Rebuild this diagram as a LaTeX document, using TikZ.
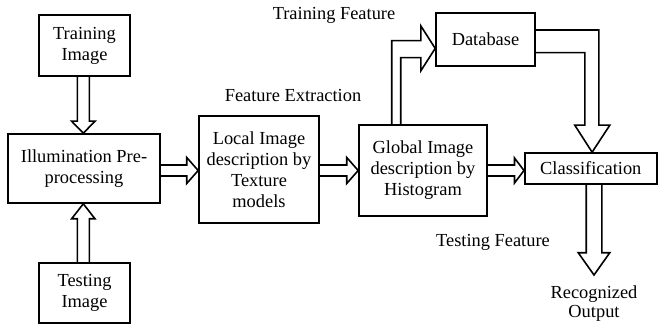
\documentclass[tikz,border=0pt]{standalone}
\usepackage{fontspec}
\setmainfont{Liberation Serif}
\usetikzlibrary{calc}
% block arrows: #1 start, #2 tip, #3 shaft half width, #4 head half width, #5 head length
\newcommand\arrowR[5]{\draw[blk] let \p1=(#1), \p2=(#2) in (\x1,\y1-#3) -- (\x2-#5,\y1-#3) -- (\x2-#5,\y1-#4) -- (\x2,\y1) -- (\x2-#5,\y1+#4) -- (\x2-#5,\y1+#3) -- (\x1,\y1+#3);}
\newcommand\arrowD[5]{\draw[blk] let \p1=(#1), \p2=(#2) in (\x1-#3,\y1) -- (\x1-#3,\y2+#5) -- (\x1-#4,\y2+#5) -- (\x1,\y2) -- (\x1+#4,\y2+#5) -- (\x1+#3,\y2+#5) -- (\x1+#3,\y1);}
\newcommand\arrowU[5]{\draw[blk] let \p1=(#1), \p2=(#2) in (\x1-#3,\y1) -- (\x1-#3,\y2-#5) -- (\x1-#4,\y2-#5) -- (\x1,\y2) -- (\x1+#4,\y2-#5) -- (\x1+#3,\y2-#5) -- (\x1+#3,\y1);}
\begin{document}
\begin{tikzpicture}[x=1pt,y=1pt,
  every node/.style={font=\fontsize{18.4}{21}\selectfont},
  box/.style={draw, line width=1.6pt, align=center, inner sep=0pt},
  blk/.style={draw, line width=1.6pt, line join=miter},
  lbl/.style={align=center, inner sep=0pt}]
\useasboundingbox (0,0) rectangle (658,324);

\node[box, minimum width=91, minimum height=61] (train) at (84.5,278.5) {Training\\Image};
\node[box, minimum width=152, minimum height=69] (illum) at (84,155.5) {Illumination Pre-\\processing};
\node[box, minimum width=91, minimum height=60] (test) at (84.5,31) {Testing\\Image};
\node[box, minimum width=120, minimum height=107] (local) at (259,154.5) {Local Image\\description by\\Texture\\models};
\node[box, minimum width=128, minimum height=91] (global) at (423,153.5) {Global Image\\description by\\Histogram};
\node[box, minimum width=99, minimum height=53] (db) at (485.5,284.5) {Database};
\node[box, minimum width=132, minimum height=31] (class) at (590.8,155.5) {Classification};

\node[lbl] (fe) at (293,228) {Feature Extraction};
\node[lbl] (tf) at (334,309) {Training Feature};
\node[lbl] (tsf) at (493,82) {Testing Feature};
\node[lbl, font=\fontsize{18.4}{19}\selectfont] (out) at (594,20) {Recognized\\Output};

\coordinate (haxis) at (0,153.5);
\coordinate (vaxis) at (83.3,0);
\coordinate (outtip) at (594,49);

\arrowD{train.south -| vaxis}{illum.north -| vaxis}{6}{11.7}{12}
\arrowU{test.north -| vaxis}{illum.south -| vaxis}{6}{11.7}{15}
\arrowR{illum.east |- haxis}{local.west |- haxis}{5.5}{13}{11.5}
\arrowR{local.east |- haxis}{global.west |- haxis}{5.5}{13}{11.5}
\arrowR{global.east |- haxis}{class.west |- haxis}{5.5}{12.5}{9.5}
\arrowD{class.south -| outtip}{outtip}{7.8}{15.8}{22.3}

% Global -> Database (bent)
\draw[blk] let \p1=(global.north), \p2=(db.west) in
  (\x1-31.3,\y1) -- (\x1-31.3,\y2-1.2) -- (\x2-14.3,\y2-1.2) -- (\x2-14.3,\y2+13.5)
  -- (\x2,\y2-8.9) -- (\x2-14.3,\y2-31.2) -- (\x2-14.3,\y2-18.2) -- (\x1-22.3,\y2-18.2) -- (\x1-22.3,\y1);
% Database -> Classification (bent)
\draw[blk] let \p1=(db.east), \p2=(class.north) in
  (\x1,\y1+9.5) -- (\x2+8,\y1+9.5) -- (\x2+8,\y2+27) -- (\x2+19,\y2+27) -- (\x2+1.3,\y2)
  -- (\x2-16,\y2+27) -- (\x2-6,\y2+27) -- (\x2-6,\y1-13.2) -- (\x1,\y1-13.2);
\end{tikzpicture}
\end{document}
